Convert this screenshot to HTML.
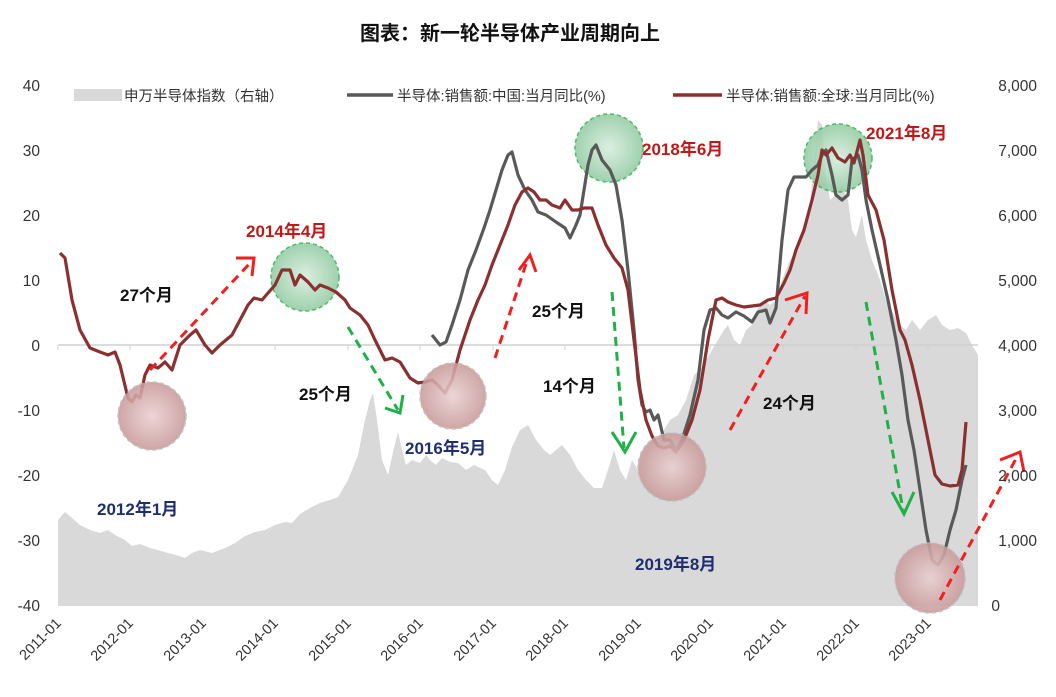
<!DOCTYPE html>
<html><head><meta charset="utf-8"><style>
body{margin:0;background:#fff;}
svg{display:block;font-family:"Liberation Sans","Noto Sans CJK SC",sans-serif;}
</style></head><body>
<svg width="1056" height="697" viewBox="0 0 1056 697">
<defs>
<radialGradient id="rg" cx="50%" cy="50%" r="50%"><stop offset="0" stop-color="#ead0d0"/><stop offset="1" stop-color="#c99a9a"/></radialGradient>
<radialGradient id="gg" cx="50%" cy="50%" r="50%"><stop offset="0" stop-color="#d6ecdc"/><stop offset="1" stop-color="#8fcaa0"/></radialGradient>
</defs>
<text x="510" y="40" text-anchor="middle" font-size="20" font-weight="bold" fill="#111">图表：新一轮半导体产业周期向上</text>
<polygon fill="#d9d9d9" points="58,520 65,512 72,518 80,525 90,530 100,533 108,530 115,535 125,540 132,546 140,544 150,548 158,550 168,553 176,555 185,558 192,553 200,550 212,553 225,548 235,543 245,536 255,532 265,530 275,525 285,522 292,523 300,514 310,508 320,503 330,500 338,497 348,480 358,455 365,420 370,400 373,393 377,420 382,460 388,475 394,448 398,432 402,450 406,465 412,460 420,463 426,455 430,460 436,465 442,458 450,462 458,463 466,470 474,465 485,470 492,480 498,485 505,470 512,447 520,430 528,425 536,440 544,450 550,455 556,450 562,445 570,455 578,470 586,480 594,488 602,488 608,470 614,450 620,470 626,480 632,460 638,470 644,455 652,440 658,445 664,430 670,420 678,415 686,400 694,375 700,370 706,360 712,350 718,340 724,330 728,325 734,340 740,345 746,330 752,325 758,308 764,300 770,305 776,300 782,280 790,260 798,250 804,225 810,205 814,160 818,120 822,125 826,175 830,200 836,195 842,185 848,200 852,230 856,237 862,215 866,240 872,260 880,280 886,300 894,315 900,325 906,330 912,320 920,330 928,320 936,315 942,325 950,330 958,328 966,333 972,345 978,355 978,606 58,606"/>
<line x1="58" y1="345" x2="978" y2="345" stroke="#d0d0d0" stroke-width="1.5"/>
<g stroke="#d0d0d0" stroke-width="1">
<line x1="58" y1="345" x2="58" y2="350"/><line x1="130" y1="345" x2="130" y2="350"/><line x1="203" y1="345" x2="203" y2="350"/><line x1="275" y1="345" x2="275" y2="350"/><line x1="348" y1="345" x2="348" y2="350"/><line x1="420" y1="345" x2="420" y2="350"/><line x1="493" y1="345" x2="493" y2="350"/><line x1="565" y1="345" x2="565" y2="350"/><line x1="638" y1="345" x2="638" y2="350"/><line x1="710" y1="345" x2="710" y2="350"/><line x1="783" y1="345" x2="783" y2="350"/><line x1="856" y1="345" x2="856" y2="350"/><line x1="928" y1="345" x2="928" y2="350"/>
</g>
<g stroke="#2fb050" stroke-dasharray="4,3" stroke-width="1.5" opacity="0.85">
<circle cx="305" cy="277" r="34" fill="url(#gg)"/>
<circle cx="609" cy="148" r="34" fill="url(#gg)"/>
<circle cx="838" cy="158" r="34" fill="url(#gg)"/>
</g>
<polyline fill="none" stroke="#595959" stroke-width="3.2" stroke-linejoin="round" points="432,335 440,345 446,342 452,325 460,300 468,270 476,250 484,228 490,210 496,190 502,170 508,155 512,152 518,175 525,190 532,200 538,212 546,215 556,222 565,228 570,238 576,225 580,215 584,190 588,165 592,150 596,145 602,160 610,170 616,185 622,220 628,270 634,330 638,380 642,405 646,412 650,410 654,420 658,415 664,440 670,440 676,450 682,440 690,415 698,380 704,330 710,310 716,308 722,315 728,318 736,312 744,316 752,322 758,312 766,310 770,323 776,308 782,240 788,190 794,177 800,177 806,177 812,170 818,165 822,155 826,150 832,175 836,195 842,200 848,195 852,160 858,155 862,170 866,200 872,230 880,265 888,300 896,340 902,375 908,420 914,450 920,490 926,530 932,560 938,565 944,555 950,530 956,510 962,480 966,465"/>
<polyline fill="none" stroke="#8b3030" stroke-width="3.2" stroke-linejoin="round" points="60,253 65,258 72,300 80,330 90,348 100,352 108,355 115,352 120,365 128,398 132,402 136,395 140,398 145,375 150,365 158,368 165,362 172,370 180,345 190,335 196,330 205,345 212,353 220,345 226,340 232,335 240,320 248,305 254,298 262,300 268,293 275,285 282,270 290,270 295,285 300,275 308,282 315,290 320,285 328,288 336,292 345,300 350,308 360,315 368,325 375,340 385,360 392,358 400,362 410,378 418,383 425,382 432,380 438,385 445,393 452,380 460,350 470,320 478,300 485,285 492,265 500,245 508,225 515,205 522,192 528,188 534,192 540,200 546,200 552,205 560,208 565,200 572,210 578,210 584,208 592,208 598,225 606,245 614,258 622,268 628,290 634,340 640,390 646,420 652,436 658,446 664,448 670,446 676,452 684,440 692,420 700,390 708,340 716,300 722,298 728,302 736,305 744,307 752,306 760,305 768,300 776,298 784,283 790,270 796,250 804,230 812,200 818,175 822,150 826,155 832,148 838,158 845,162 850,155 854,163 860,140 863,155 868,195 876,210 884,240 892,290 900,330 905,340 912,365 920,400 928,440 935,475 942,484 950,486 958,485 962,470 966,422"/>
<g stroke="#bbb" stroke-dasharray="4,3" stroke-width="1.5" opacity="0.88">
<circle cx="152" cy="416" r="34" fill="url(#rg)"/>
<circle cx="453" cy="396" r="33" fill="url(#rg)"/>
<circle cx="672" cy="467" r="34" fill="url(#rg)"/>
<circle cx="930" cy="578" r="35" fill="url(#rg)"/>
</g>
<g fill="none" stroke-width="3" stroke-dasharray="9,6">
<line x1="150" y1="370" x2="252" y2="261" stroke="#f02020"/>
<line x1="495" y1="358" x2="528" y2="258" stroke="#f02020"/>
<line x1="730" y1="430" x2="805" y2="296" stroke="#f02020"/>
<line x1="940" y1="600" x2="1018" y2="455" stroke="#f02020"/>
<line x1="348" y1="327" x2="398" y2="410" stroke="#20b048"/>
<line x1="612" y1="292" x2="624" y2="448" stroke="#20b048"/>
<line x1="866" y1="302" x2="903" y2="510" stroke="#20b048"/>
</g>
<g fill="none" stroke-width="3">
<polyline points="236,258 254,258 252,276" stroke="#f02020"/>
<polyline points="519,270 530,255 536,272" stroke="#f02020"/>
<polyline points="785,300 807,293 806,314" stroke="#f02020"/>
<polyline points="1000,460 1020,452 1024,472" stroke="#f02020"/>
<polyline points="385,408 400,413 403,395" stroke="#20b048"/>
<polyline points="612,432 625,452 636,432" stroke="#20b048"/>
<polyline points="892,492 904,514 914,492" stroke="#20b048"/>
</g>
<g font-weight="bold" font-size="17">
<text x="120" y="301" fill="#111">27个月</text>
<text x="246" y="237" fill="#c01818">2014年4月</text>
<text x="299" y="400" fill="#111">25个月</text>
<text x="405" y="454" fill="#1f2e6e">2016年5月</text>
<text x="97" y="515" fill="#1f2e6e">2012年1月</text>
<text x="532" y="317" fill="#111">25个月</text>
<text x="543" y="392" fill="#111">14个月</text>
<text x="635" y="570" fill="#1f2e6e">2019年8月</text>
<text x="763" y="409" fill="#111">24个月</text>
<text x="642" y="155" fill="#c01818">2018年6月</text>
<text x="866" y="139" fill="#c01818">2021年8月</text>
</g>
<rect x="74" y="89" width="48" height="12" fill="#d9d9d9"/>
<text x="124" y="101" font-size="14.5" fill="#333">申万半导体指数（右轴）</text>
<line x1="347" y1="95" x2="393" y2="95" stroke="#595959" stroke-width="3.5"/>
<text x="397" y="101" font-size="14.5" fill="#333">半导体:销售额:中国:当月同比(%)</text>
<line x1="673" y1="95" x2="722" y2="95" stroke="#8b3030" stroke-width="3.5"/>
<text x="726" y="101" font-size="14.5" fill="#333">半导体:销售额:全球:当月同比(%)</text>
<g font-size="15.5" fill="#333" text-anchor="end">
<text x="40" y="91">40</text><text x="40" y="156">30</text><text x="40" y="221">20</text><text x="40" y="286">10</text><text x="40" y="351">0</text><text x="40" y="416">-10</text><text x="40" y="481">-20</text><text x="40" y="546">-30</text><text x="40" y="611">-40</text>
</g>
<g font-size="15.5" fill="#333" text-anchor="end">
<text x="1037" y="91">8,000</text><text x="1037" y="156">7,000</text><text x="1037" y="221">6,000</text><text x="1037" y="286">5,000</text><text x="1037" y="351">4,000</text><text x="1037" y="416">3,000</text><text x="1037" y="481">2,000</text><text x="1037" y="546">1,000</text><text x="1000" y="611">0</text>
</g>
<g font-size="14.5" fill="#333" text-anchor="end">
<text transform="translate(62,624) rotate(-45)">2011-01</text>
<text transform="translate(134,624) rotate(-45)">2012-01</text>
<text transform="translate(207,624) rotate(-45)">2013-01</text>
<text transform="translate(279,624) rotate(-45)">2014-01</text>
<text transform="translate(352,624) rotate(-45)">2015-01</text>
<text transform="translate(424,624) rotate(-45)">2016-01</text>
<text transform="translate(497,624) rotate(-45)">2017-01</text>
<text transform="translate(569,624) rotate(-45)">2018-01</text>
<text transform="translate(642,624) rotate(-45)">2019-01</text>
<text transform="translate(714,624) rotate(-45)">2020-01</text>
<text transform="translate(787,624) rotate(-45)">2021-01</text>
<text transform="translate(860,624) rotate(-45)">2022-01</text>
<text transform="translate(932,624) rotate(-45)">2023-01</text>
</g>
</svg>
</body></html>
